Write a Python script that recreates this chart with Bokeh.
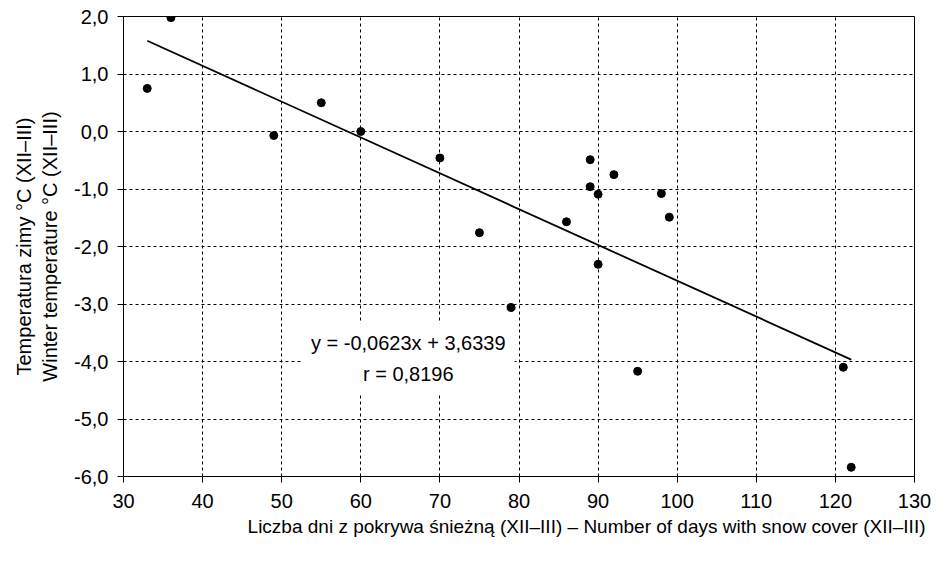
from bokeh.plotting import figure
from bokeh.models import Range1d, FixedTicker, CustomJSTickFormatter, Label, Title
from bokeh.embed import file_html
from bokeh.resources import INLINE

# ---- data ----
snow_days = [33, 36, 49, 55, 60, 70, 75, 79, 86, 89, 89, 90, 90, 92, 95, 98, 99, 121, 122]
winter_temp = [0.75, 1.98, -0.07, 0.50, 0.00, -0.46, -1.76, -3.06, -1.57, -0.49,
               -0.96, -1.09, -2.31, -0.75, -4.17, -1.08, -1.49, -4.10, -5.84]
slope = -0.0623
intercept = 3.6339
r_value = 0.8196
x_ticks = [30, 40, 50, 60, 70, 80, 90, 100, 110, 120, 130]
y_ticks = [-6, -5, -4, -3, -2, -1, 0, 1, 2]

FONT = "Liberation Sans"
FS = "19px"

p = figure(width=931, height=546, output_backend="svg", toolbar_location=None,
           x_range=Range1d(30, 130), y_range=Range1d(-6, 2),
           min_border_left=123, min_border_right=17, min_border_top=16, min_border_bottom=70)
p.background_fill_color = "white"
p.border_fill_color = "white"
p.outline_line_color = "black"
p.outline_line_width = 1

# grid
for g in (p.xgrid, p.ygrid):
    g.grid_line_color = "black"
    g.grid_line_dash = "3 3"
    g.grid_line_width = 1
p.xgrid.ticker = FixedTicker(ticks=x_ticks)
p.ygrid.ticker = FixedTicker(ticks=y_ticks)

# axes
p.xaxis.ticker = FixedTicker(ticks=x_ticks)
p.yaxis.ticker = FixedTicker(ticks=y_ticks)
p.yaxis.formatter = CustomJSTickFormatter(code="return tick.toFixed(1).replace('.', ',');")
p.xaxis.formatter = CustomJSTickFormatter(code="return tick.toFixed(0);")
for ax in (p.xaxis, p.yaxis):
    ax.axis_line_color = "black"
    ax.major_tick_line_color = "black"
    ax.major_tick_out = 6
    ax.major_tick_in = 0
    ax.minor_tick_line_color = None
    ax.major_label_text_font = FONT
    ax.major_label_text_font_size = "20px"
    ax.major_label_text_color = "black"
    ax.axis_label_text_font = FONT
    ax.axis_label_text_font_size = "20px"
    ax.axis_label_text_font_style = "normal"
    ax.axis_label_text_color = "black"
p.yaxis.major_label_standoff = 9
p.xaxis.major_label_standoff = 11
p.yaxis.axis_label = "Temperatura zimy °C (XII–III)\nWinter temperature °C (XII–III)"
p.yaxis.axis_label_standoff = 10

p.add_layout(Title(text="Liczba dni z pokrywa śnieżną (XII–III) – Number of days with snow cover (XII–III)",
                   align="right", text_font=FONT, text_font_size=FS, text_font_style="normal",
                   text_color="black", offset=-11, standoff=6), "below")

# trend line (from the regression coefficients)
x_line = [min(snow_days), max(snow_days)]
y_line = [slope * x + intercept for x in x_line]
p.line(x_line, y_line, line_color="black", line_width=1.8)

# points
p.scatter(snow_days, winter_temp, size=8, fill_color="black", line_color="black")

# equation label
eq_text = ("y = " + f"{slope:.4f}".replace(".", ",") + "x + " + f"{intercept:.4f}".replace(".", ",")
           + "\n" + "r = " + f"{r_value:.4f}".replace(".", ","))
p.add_layout(Label(x=66.0, y=-3.95, text=eq_text, text_align="center", text_baseline="middle",
                   text_font=FONT, text_font_size="20px", text_color="black",
                   text_line_height=1.4, background_fill_color="white", padding=9))

open("out.html", "w").write(file_html(p, INLINE))
